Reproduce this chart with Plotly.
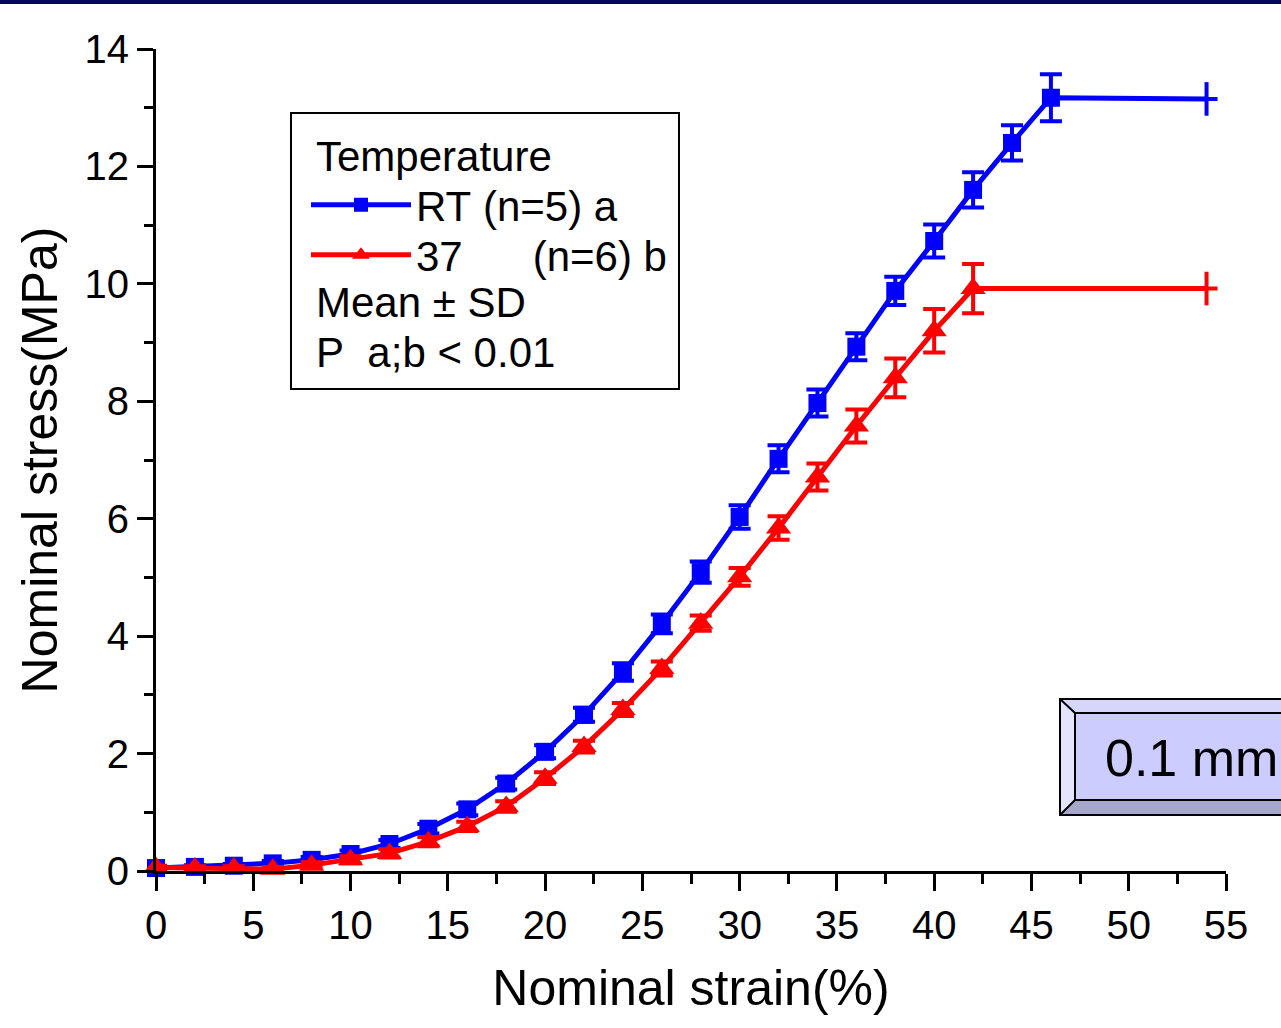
import plotly.graph_objects as go

# ---------------- data ----------------
strain_rt = [0, 2, 4, 6, 8, 10, 12, 14, 16, 18, 20, 22, 24, 26, 28, 30, 32, 34, 36, 38, 40, 42, 44, 46]
stress_rt = [0.05, 0.07, 0.09, 0.13, 0.19, 0.29, 0.46, 0.72, 1.05, 1.49, 2.03, 2.66, 3.39, 4.21, 5.09,
             6.03, 7.02, 7.97, 8.93, 9.88, 10.73, 11.6, 12.4, 13.17]
sd_rt = [0.03, 0.03, 0.03, 0.04, 0.05, 0.06, 0.07, 0.08, 0.1, 0.1, 0.11, 0.12, 0.15, 0.16, 0.18,
         0.2, 0.23, 0.23, 0.23, 0.24, 0.28, 0.3, 0.3, 0.4]

strain_37 = [0, 2, 4, 6, 8, 10, 12, 14, 16, 18, 20, 22, 24, 26, 28, 30, 32, 34, 36, 38, 40, 42]
stress_37 = [0.06, 0.05, 0.05, 0.03, 0.1, 0.19, 0.3, 0.5, 0.76, 1.1, 1.58, 2.12, 2.75, 3.45, 4.22,
             5.01, 5.84, 6.71, 7.58, 8.4, 9.2, 9.92]
sd_37 = [0.03, 0.03, 0.03, 0.04, 0.05, 0.06, 0.07, 0.08, 0.08, 0.09, 0.1, 0.1, 0.11, 0.12, 0.13,
         0.15, 0.2, 0.23, 0.28, 0.33, 0.37, 0.42]

# plateau end points (failure extension)
end_strain = 54
end_rt = 13.15
end_37 = 9.92

x_ticks = [0, 5, 10, 15, 20, 25, 30, 35, 40, 45, 50, 55]
y_ticks = [0, 2, 4, 6, 8, 10, 12, 14]

BLUE = "#0000ff"
RED = "#ff0000"
FONT = "Liberation Sans, Arial, sans-serif"

W, H = 1281, 1028
L, R, T, B = 156, 1226, 49, 871


def px(x):
    return (x - L) / (R - L)


def py(y):
    return (B - y) / (B - T)


fig = go.Figure()


def add_series(xs, ys, sds, ex, ey, color, symbol, msize, name, legend):
    xx = xs + [ex]
    yy = ys + [ey]
    ee = sds + [0]
    symbols = [symbol] * len(xs) + ["line-ns"]
    sizes = [msize] * len(xs) + [24]
    lw = [0] * len(xs) + [4]
    fig.add_trace(go.Scatter(
        x=xx, y=yy, mode="lines+markers", name=name, legend=legend,
        line=dict(color=color, width=5),
        marker=dict(color=color, symbol=symbols, size=sizes, opacity=1,
                    line=dict(color=color, width=lw)),
        error_y=dict(type="data", array=ee, visible=True, color=color,
                     thickness=4, width=11),
        cliponaxis=False,
    ))


add_series(strain_rt, stress_rt, sd_rt, end_strain, end_rt, BLUE, "square", 18,
           "RT\u00a0(n=5)\u00a0a", "legend")
add_series(strain_37, stress_37, sd_37, end_strain, end_37, RED, "triangle-up", 22,
           "37\u00a0\u00a0\u00a0\u00a0\u00a0\u00a0(n=6)\u00a0b", "legend2")

axis_common = dict(
    showline=True, linewidth=3, linecolor="black",
    ticks="outside", tickwidth=3, tickcolor="black",
    showgrid=False, zeroline=False, mirror=False,
    tickfont=dict(family=FONT, size=40, color="black"),
)

fig.update_xaxes(
    range=[0, 55], tickvals=x_ticks, ticklen=17,
    minor=dict(dtick=2.5, tick0=0, ticks="outside", ticklen=10, tickwidth=3, tickcolor="black"),
    title=dict(text="Nominal strain(%)", font=dict(family=FONT, size=50, color="black"), standoff=24),
    **axis_common,
)
fig.update_yaxes(
    range=[0, 14], tickvals=y_ticks, ticklen=16,
    minor=dict(dtick=1, tick0=0, ticks="outside", ticklen=9, tickwidth=3, tickcolor="black"),
    title=dict(text="Nominal stress(MPa)", font=dict(family=FONT, size=50, color="black"), standoff=12),
    **axis_common,
)

shapes = []
# top dark band
shapes.append(dict(type="rect", xref="paper", yref="paper",
                   x0=px(0), x1=px(W), y0=py(0), y1=py(4),
                   fillcolor="#050560", line=dict(width=0), layer="above"))
# legend box
shapes.append(dict(type="rect", xref="paper", yref="paper",
                   x0=px(291), x1=px(679), y0=py(389), y1=py(113),
                   fillcolor="rgba(0,0,0,0)", line=dict(color="black", width=2)))

# bevel box "0.1 mm"
ox0, oy0, ox1, oy1 = 1060, 699, 1300, 815
ix0, iy0, ix1, iy1 = 1075, 713, 1300, 800
shapes.append(dict(type="rect", xref="paper", yref="paper",
                   x0=px(ox0), x1=px(ox1), y0=py(oy1), y1=py(oy0),
                   fillcolor="#d6d6fb", line=dict(width=0)))
shapes.append(dict(type="path", xref="paper", yref="paper",
                   path=f"M {px(ox0)} {py(oy1)} L {px(ox1)} {py(oy1)} L {px(ix1)} {py(iy1)} L {px(ix0)} {py(iy1)} Z",
                   fillcolor="#a7a7cc", line=dict(width=0)))
shapes.append(dict(type="path", xref="paper", yref="paper",
                   path=f"M {px(ox0)} {py(oy0)} L {px(ix0)} {py(iy0)} L {px(ix0)} {py(iy1)} L {px(ox0)} {py(oy1)} Z",
                   fillcolor="#e4e4ff", line=dict(width=0)))
shapes.append(dict(type="rect", xref="paper", yref="paper",
                   x0=px(ix0), x1=px(ix1), y0=py(iy1), y1=py(iy0),
                   fillcolor="#ccccff", line=dict(color="black", width=2)))
shapes.append(dict(type="rect", xref="paper", yref="paper",
                   x0=px(ox0), x1=px(ox1), y0=py(oy1), y1=py(oy0),
                   fillcolor="rgba(0,0,0,0)", line=dict(color="black", width=2)))
shapes.append(dict(type="line", xref="paper", yref="paper",
                   x0=px(ox0), y0=py(oy0), x1=px(ix0), y1=py(iy0), line=dict(color="black", width=2)))
shapes.append(dict(type="line", xref="paper", yref="paper",
                   x0=px(ox0), y0=py(oy1), x1=px(ix0), y1=py(iy1), line=dict(color="black", width=2)))

annotations = [
    dict(text="Temperature", xref="paper", yref="paper", x=px(314), y=py(157),
         xanchor="left", yanchor="middle", showarrow=False,
         font=dict(family=FONT, size=42, color="black")),
    dict(text="Mean \u00b1 SD", xref="paper", yref="paper", x=px(314), y=py(302),
         xanchor="left", yanchor="middle", showarrow=False,
         font=dict(family=FONT, size=42, color="black")),
    dict(text="P\u00a0 a;b < 0.01", xref="paper", yref="paper", x=px(314), y=py(352),
         xanchor="left", yanchor="middle", showarrow=False,
         font=dict(family=FONT, size=42, color="black")),
    dict(text="0.1 mm", xref="paper", yref="paper", x=px(1103), y=py(758),
         xanchor="left", yanchor="middle", showarrow=False,
         font=dict(family=FONT, size=52, color="black")),
]

legend_common = dict(xanchor="left", yanchor="middle",
                     bgcolor="rgba(0,0,0,0)", borderwidth=0,
                     font=dict(family=FONT, size=42, color="black"),
                     itemwidth=100, itemsizing="constant")

fig.update_layout(
    width=W, height=H,
    margin=dict(l=L, r=W - R, t=T, b=H - B, autoexpand=False),
    paper_bgcolor="white", plot_bgcolor="white",
    showlegend=True,
    legend=dict(x=px(306), y=py(205), **legend_common),
    legend2=dict(x=px(306), y=py(255), **legend_common),
    shapes=shapes,
    annotations=annotations,
)

fig.write_html("out.html", config={"displayModeBar": False},
               post_script="document.body.style.margin='0px';")
